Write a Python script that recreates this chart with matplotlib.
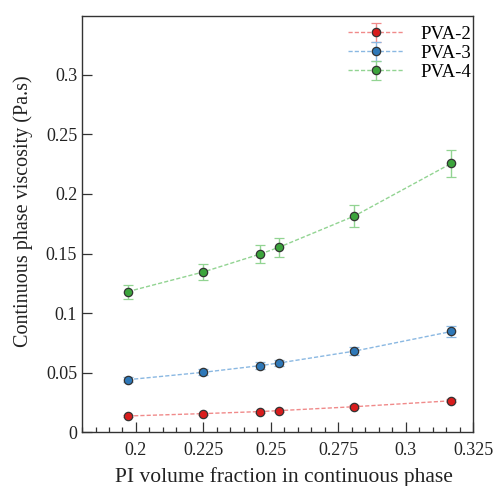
import matplotlib
matplotlib.use("Agg")
import matplotlib.pyplot as plt
from matplotlib.ticker import MultipleLocator, FuncFormatter

plt.rcParams['font.family'] = ['Liberation Serif', 'DejaVu Serif']

x = [0.197, 0.225, 0.246, 0.253, 0.281, 0.317]
pva2 = [0.0135, 0.0155, 0.0172, 0.0180, 0.0213, 0.0263]
pva3 = [0.0440, 0.0502, 0.0558, 0.0580, 0.0680, 0.0845]
pva4 = [0.1180, 0.1345, 0.1495, 0.1552, 0.1815, 0.2258]
err_frac = 0.05
labels = ["PVA-2", "PVA-3", "PVA-4"]

series = [pva2, pva3, pva4]
face = ["#d81c1c", "#2e78b8", "#3ca43c"]
linec = ["#f08a8a", "#8ab8e2", "#92d492"]

fig = plt.figure(figsize=(4.95, 4.86), dpi=100)
ax = fig.add_axes([0.1657, 0.111, 0.79, 0.856])

for ys, fc, lc, lab in zip(series, face, linec, labels):
    ax.errorbar(x, ys, yerr=[v * err_frac for v in ys], fmt='o', linestyle='--',
                color=lc, lw=1.0, markersize=6, markerfacecolor=fc,
                markeredgecolor='#333333', markeredgewidth=0.9,
                ecolor=lc, elinewidth=1.0, capsize=3.5, capthick=1.0, label=lab,
                dashes=(3, 1.5))

ax.set_xlim(0.18, 0.325)
ax.set_ylim(0, 0.3495)
ax.xaxis.set_major_locator(MultipleLocator(0.025))
ax.xaxis.set_minor_locator(MultipleLocator(0.005))
ax.yaxis.set_major_locator(MultipleLocator(0.05))

def fmt(v, pos):
    s = ('%.3f' % v).rstrip('0').rstrip('.')
    return s
ax.xaxis.set_major_formatter(FuncFormatter(fmt))
ax.yaxis.set_major_formatter(FuncFormatter(fmt))

ax.tick_params(axis='both', which='major', direction='in', length=7, width=0.9,
               labelsize=13, colors='#333333', labelcolor='#222222')
ax.tick_params(axis='x', which='major', pad=7)
ax.tick_params(axis='y', which='major', pad=3.5)
ax.tick_params(axis='x', which='minor', direction='in', length=3.5, width=0.9, colors='#333333')
ax.tick_params(top=False, right=False, which='both')
for sp in ax.spines.values():
    sp.set_linewidth(1.0)
    sp.set_color('#333333')

ax.set_xlabel("PI volume fraction in continuous phase", fontsize=15.5, color='#222222')
ax.set_ylabel("Continuous phase viscosity (Pa.s)", fontsize=14.5, color='#222222')
ax.xaxis.set_label_coords(0.5153, -0.085)
ax.yaxis.set_label_coords(-0.126, 0.531)

ax.legend(loc='upper right', frameon=False, fontsize=13.5, handlelength=3.0,
          borderaxespad=0.05, labelspacing=0.1, handletextpad=0.9,
          bbox_to_anchor=(1.018, 0.997))

fig.savefig("out.png", dpi=100)
